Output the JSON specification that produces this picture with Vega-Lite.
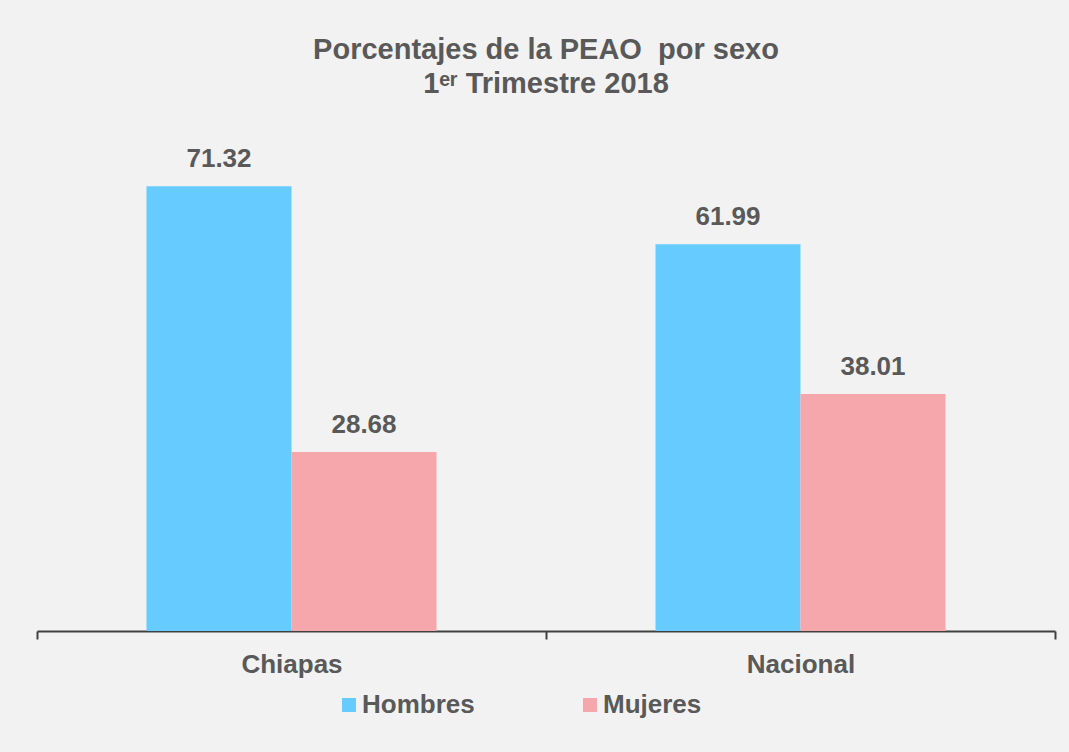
{
  "$schema": "https://vega.github.io/schema/vega-lite/v6.json",
  "autosize": {"type": "none"},
  "width": 1018,
  "height": 499,
  "padding": {"left": 37, "top": 132, "right": 14, "bottom": 121},
  "background": "#f2f2f2",
  "title": {
    "text": ["Porcentajes de la PEAO \u00a0por sexo", "1ᵉʳ Trimestre 2018"],
    "fontSize": 29,
    "lineHeight": 34,
    "font": "Liberation Sans",
    "fontWeight": "bold",
    "color": "#595959",
    "anchor": "middle",
    "offset": 33
  },
  "data": {
    "values": [
      {"region": "Chiapas", "sexo": "Hombres", "valor": 71.32},
      {"region": "Chiapas", "sexo": "Mujeres", "valor": 28.68},
      {"region": "Nacional", "sexo": "Hombres", "valor": 61.99},
      {"region": "Nacional", "sexo": "Mujeres", "valor": 38.01}
    ]
  },
  "encoding": {
    "x": {
      "field": "region",
      "type": "nominal",
      "scale": {"paddingInner": 0, "paddingOuter": 0},
      "axis": {
        "title": null,
        "labelAngle": 0,
        "labelFont": "Liberation Sans",
        "labelFontSize": 26,
        "labelFontWeight": "bold",
        "labelColor": "#595959",
        "labelPadding": 12,
        "domainColor": "#404040",
        "domainWidth": 2,
        "tickColor": "#404040",
        "tickWidth": 2,
        "tickSize": 8,
        "tickBand": "extent",
        "grid": false
      }
    },
    "xOffset": {
      "field": "sexo",
      "type": "nominal",
      "scale": {"paddingInner": 0, "paddingOuter": 0.755}
    },
    "y": {
      "field": "valor",
      "type": "quantitative",
      "scale": {"domain": [0, 80], "nice": false},
      "axis": null
    }
  },
  "layer": [
    {
      "mark": {"type": "bar"},
      "encoding": {
        "color": {
          "field": "sexo",
          "type": "nominal",
          "scale": {"domain": ["Hombres", "Mujeres"], "range": ["#66ccff", "#f5a7ab"]},
          "legend": {
            "title": null,
            "orient": "none",
            "direction": "horizontal",
            "legendX": 299,
            "legendY": 560,
            "symbolType": "square",
            "symbolSize": 196,
            "symbolStrokeWidth": 0,
            "labelFont": "Liberation Sans",
            "labelFontSize": 26,
            "labelFontWeight": "bold",
            "labelColor": "#595959",
            "labelOffset": 0,
            "columnPadding": 102
          }
        }
      }
    },
    {
      "mark": {
        "type": "text",
        "baseline": "alphabetic",
        "dy": -19,
        "font": "Liberation Sans",
        "fontSize": 26,
        "fontWeight": "bold",
        "color": "#595959"
      },
      "encoding": {
        "text": {"field": "valor", "type": "quantitative", "format": ".2f"}
      }
    }
  ],
  "config": {
    "view": {"stroke": null}
  }
}
